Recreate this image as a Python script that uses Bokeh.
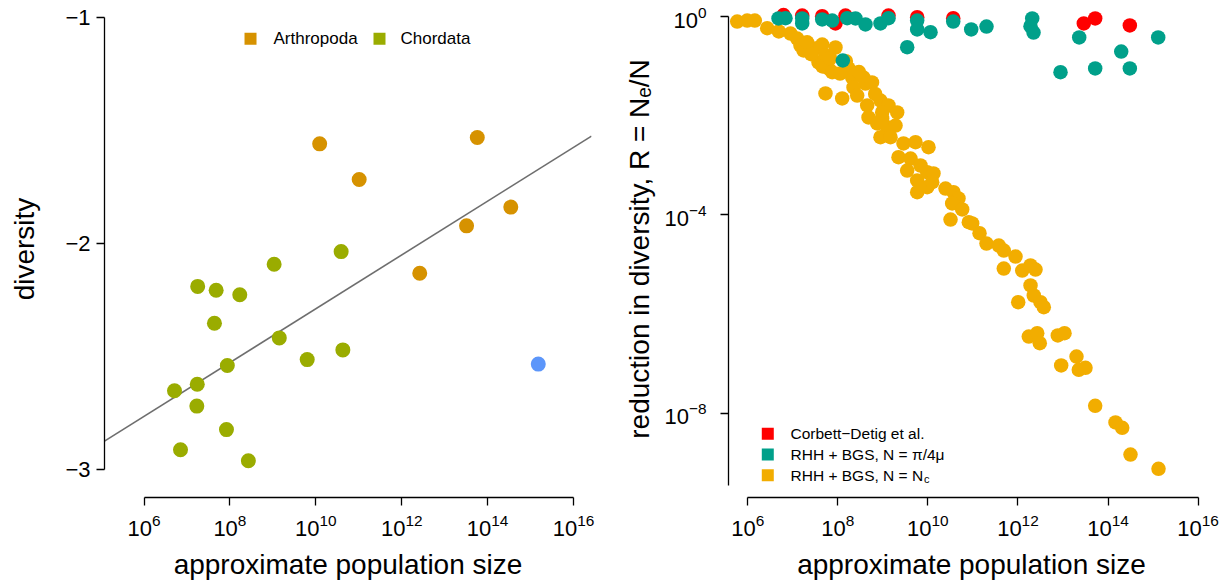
import numpy as np
from bokeh.plotting import figure
from bokeh.layouts import row
from bokeh.models import Range1d, FixedTicker
from bokeh.embed import file_html
from bokeh.resources import INLINE
from bokeh.core.properties import value

FONT = "Liberation Sans"

# ---------------- left panel: log10 diversity vs census size ----------------
arthropoda_log_n = [10.09, 11.01, 13.76, 14.54, 13.51, 12.42]
arthropoda_div = [-1.558, -1.716, -1.530, -1.838, -1.921, -2.131]

chordata_log_n = [10.59, 9.03, 7.25, 7.68, 8.23, 7.64, 9.15, 10.63, 9.80, 7.94,
                  7.24, 6.71, 7.23, 7.92, 6.85, 8.43]
chordata_div = [-2.035, -2.091, -2.189, -2.206, -2.226, -2.352, -2.417, -2.470,
                -2.513, -2.539, -2.622, -2.651, -2.719, -2.823, -2.912, -2.961]

other_log_n = [15.18]
other_div = [-2.533]

# regression of log10 diversity on log10 population size
fit_intercept = -3.479
fit_slope = 0.1191

# ---------------- right panel: R = Ne/N vs census size ----------------
corbett_log_n = [6.795, 7.210, 7.654, 7.949, 8.171, 9.126, 9.763, 10.563, 13.462, 13.715, 14.484]
corbett_log_r = [0.030, 0.020, 0.006, -0.141, 0.020, 0.020, -0.014, -0.034, -0.141, -0.040, -0.181]

pi_log_n = [6.684, 6.839, 7.210, 7.210, 7.654, 7.876, 8.209, 8.393, 8.615, 8.948,
            9.126, 9.763, 9.763, 9.541, 8.112, 10.059, 10.563, 10.962, 11.302, 12.317,
            12.279, 12.346, 13.360, 14.293, 15.114, 12.945, 13.715, 14.484]
pi_log_r = [-0.040, -0.034, -0.040, -0.141, -0.060, -0.081, -0.034, -0.040, -0.161, -0.141,
            -0.034, -0.081, -0.262, -0.619, -0.887, -0.317, -0.101, -0.262, -0.202, -0.040,
            -0.196, -0.323, -0.423, -0.706, -0.423, -1.123, -1.048, -1.048]

nc_log_n = [5.767, 5.989, 6.158, 6.433, 6.690, 6.950, 7.099, 7.172, 7.239, 7.505,
            7.654, 7.727, 7.949, 7.572, 7.794, 8.238, 8.320, 8.571, 8.615, 8.349,
            7.727, 8.098, 8.431, 8.653, 8.948, 9.126, 8.682, 8.986, 9.319,
            7.661, 7.876, 8.986, 8.875, 9.097, 9.282, 8.948, 9.171, 9.459, 9.726,
            10.014, 9.348, 9.615, 9.541, 9.837, 9.985, 10.125, 9.763, 9.763, 9.985,
            10.392, 10.569, 10.680,
            10.096, 10.540, 10.762, 10.503, 10.909, 10.984, 11.147, 11.302, 11.575, 11.686,
            11.946, 11.686, 12.095, 12.279, 12.390, 12.279, 12.352, 12.501, 12.574, 12.006,
            12.241, 12.428, 12.485, 12.885, 13.034, 12.960, 13.300, 13.351, 13.500, 13.715,
            14.166, 14.315, 14.499, 15.121,
            7.320, 7.410, 7.830, 8.050, 8.180, 8.470, 8.760, 8.830]
nc_log_r = [-0.101, -0.081, -0.081, -0.236, -0.302, -0.343, -0.444, -0.585, -0.685, -0.645,
            -0.565, -0.786, -0.625, -0.927, -1.048, -1.048, -1.230, -1.230, -1.351, -1.431,
            -1.552, -1.653, -1.593, -1.794, -1.694, -1.794, -2.036, -2.056, -1.935,
            -1.008, -1.123, -1.929, -2.157, -2.232, -2.198, -2.433, -2.433, -2.560, -2.534,
            -2.635, -2.837, -2.863, -3.105, -3.004, -3.139, -3.165, -3.306, -3.542, -3.441,
            -3.468, -3.542, -3.669,
            -3.341, -3.770, -3.891, -4.093, -4.147, -4.173, -4.369, -4.577, -4.617, -4.718,
            -4.839, -5.081, -5.121, -5.020, -5.101, -5.423, -5.625, -5.760, -5.861, -5.760,
            -6.452, -6.385, -6.587, -6.431, -6.385, -7.036, -6.855, -7.123, -7.083, -7.849,
            -8.185, -8.292, -8.831, -9.119,
            -0.520, -0.760, -0.840, -1.150, -0.900, -1.120, -1.330, -1.560]

x_ticks = [1e6, 1e8, 1e10, 1e12, 1e14, 1e16]
left_y_ticks = [-3, -2, -1]
right_y_ticks = [1e-8, 1e-4, 1.0]

COL_ARTH = "#D69200"
COL_CHORD = "#9AAC00"
COL_OTHER = "#5C96FA"
COL_RED = "#FF0000"
COL_TEAL = "#00A08A"
COL_YELLOW = "#F2AD00"

# plotting windows (log10 units for population size)
LEFT_X = (5.0803, 16.419)
LEFT_Y = (-3.1235, -0.9234)
RIGHT_X = (5.5737, 16.364)
RIGHT_Y = (-9.6976, 0.3226)


def pw(v):
    return np.power(10.0, np.asarray(v, dtype=float))


def style(p):
    p.grid.visible = False
    p.outline_line_color = None
    p.background_fill_color = "white"
    p.border_fill_color = "white"
    for ax in p.axis:
        ax.axis_line_color = "black"
        ax.axis_line_width = 1.3
        ax.major_tick_line_color = "black"
        ax.major_tick_line_width = 1.3
        ax.major_tick_out = 8
        ax.major_tick_in = 0
        ax.minor_tick_line_color = None
        ax.major_label_text_font = FONT
        ax.major_label_text_font_size = "22px"
        ax.major_label_text_color = "black"
        ax.axis_label_text_font = FONT
        ax.axis_label_text_font_size = "28px"
        ax.axis_label_text_font_style = "normal"
        ax.axis_label_text_color = "black"


# ================= left panel =================
left = figure(width=612, height=583, x_axis_type="log",
              x_range=Range1d(*pw(LEFT_X)), y_range=Range1d(*LEFT_Y),
              min_border_left=104, min_border_right=21, min_border_top=0,
              min_border_bottom=86, output_backend="svg", toolbar_location=None)
style(left)

lx = np.array(LEFT_X)
left.line(x=pw(lx), y=fit_intercept + fit_slope * lx, line_color="#6E6E6E", line_width=1.6)
left.scatter(x=pw(chordata_log_n), y=chordata_div, size=15, color=COL_CHORD, line_color=None)
left.scatter(x=pw(arthropoda_log_n), y=arthropoda_div, size=15, color=COL_ARTH, line_color=None)
left.scatter(x=pw(other_log_n), y=other_div, size=15, color=COL_OTHER, line_color=None)

# legend across the top
left.scatter(x=pw([8.480, 11.483]), y=[-1.093, -1.093], marker="square", size=12,
             color=[COL_ARTH, COL_CHORD], line_color=None)
left.text(x=pw([9.015, 11.972]), y=[-1.093, -1.093], text=["Arthropoda", "Chordata"],
          text_font=value(FONT), text_font_size="17px", text_baseline="middle",
          text_align="left", text_color="black")

left.xaxis.ticker = FixedTicker(ticks=x_ticks)
left.xaxis.bounds = (1e6, 1e16)
left.xaxis.axis_label = "approximate population size"
left.xaxis.major_label_standoff = 8
left.xaxis.axis_label_standoff = 10
left.yaxis.ticker = FixedTicker(ticks=left_y_ticks)
left.yaxis.bounds = (-3, -1)
left.yaxis.major_label_overrides = {-3: "\u22123", -2: "\u22122", -1: "\u22121"}
left.yaxis.major_label_standoff = 6
left.yaxis.axis_label = "diversity"
left.yaxis.axis_label_standoff = 22

# ================= right panel =================
right = figure(width=612, height=583, x_axis_type="log", y_axis_type="log",
               x_range=Range1d(*pw(RIGHT_X)), y_range=Range1d(*pw(RIGHT_Y)),
               min_border_left=116, min_border_right=10, min_border_top=0,
               min_border_bottom=86, output_backend="svg", toolbar_location=None)
style(right)

right.scatter(x=pw(corbett_log_n), y=pw(corbett_log_r), size=14.5, color=COL_RED, line_color=None)
right.scatter(x=pw(nc_log_n), y=pw(nc_log_r), size=14.5, color=COL_YELLOW, line_color=None)
right.scatter(x=pw(pi_log_n), y=pw(pi_log_r), size=14.5, color=COL_TEAL, line_color=None)

# legend in the lower left corner
leg_y = [-8.413, -8.831, -9.248]
right.scatter(x=pw([6.446] * 3), y=pw(leg_y), marker="square", size=12,
              color=[COL_RED, COL_TEAL, COL_YELLOW], line_color=None)
right.text(x=pw([6.950] * 3), y=pw(leg_y),
           text=["Corbett\u2212Detig et al.", "RHH + BGS, N = \u03c0/4\u03bc", "RHH + BGS, N = N"],
           text_font=value(FONT), text_font_size="15.5px", text_baseline="middle",
           text_align="left", text_color="black")
right.text(x=pw([9.916]), y=pw([-9.318]), text=["c"], text_font=value(FONT),
           text_font_size="11px", text_baseline="middle", text_align="left",
           text_color="black")

right.xaxis.ticker = FixedTicker(ticks=x_ticks)
right.xaxis.bounds = (1e6, 1e16)
right.xaxis.axis_label = "approximate population size"
right.xaxis.major_label_standoff = 8
right.xaxis.axis_label_standoff = 10
right.yaxis.ticker = FixedTicker(ticks=right_y_ticks)
right.yaxis.bounds = (10 ** -9.456, 1.0)
right.yaxis.major_label_standoff = 14
right.yaxis.axis_label = "reduction in diversity, R = N\u2091/N"
right.yaxis.axis_label_standoff = 6

layout = row(left, right)
open("out.html", "w").write(file_html(layout, INLINE))
